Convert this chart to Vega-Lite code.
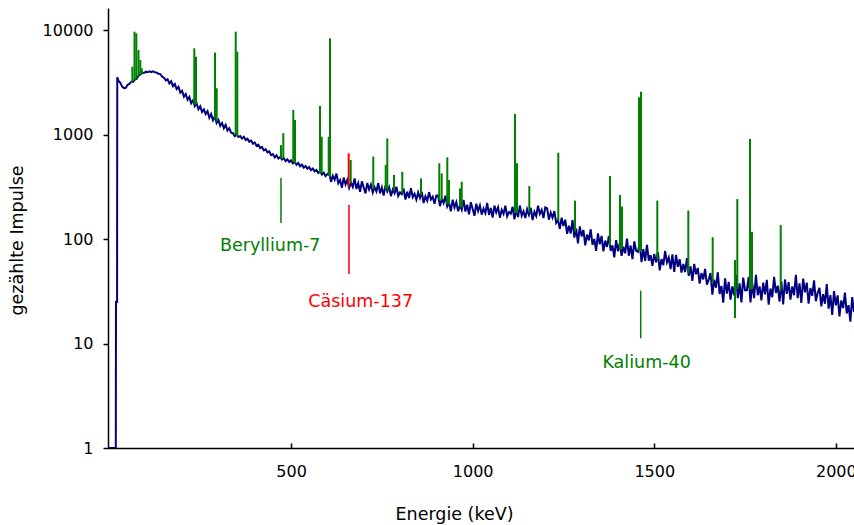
{
  "$schema": "https://vega.github.io/schema/vega-lite/v6.json",
  "width": 746,
  "height": 440,
  "autosize": "none",
  "padding": {"left": 108, "top": 8, "right": 0, "bottom": 77},
  "background": "white",
  "config": {
    "view": {"stroke": null},
    "font": "DejaVu Sans",
    "axis": {"grid": false, "domainColor": "#000", "tickColor": "#000", "labelColor": "#000", "titleColor": "#000", "titleFontWeight": "normal", "domainWidth": 1.5, "tickWidth": 1.5, "labelFont": "DejaVu Sans", "titleFont": "DejaVu Sans"}
  },
  "datasets": {
    "spectrum": [
      {"e":-4,"c":1},{"e":17.5,"c":1},{"e":18,"c":25},{"e":21,"c":25},{"e":21.5,"c":3530},{"e":25,"c":3260},{"e":30,"c":3120},{"e":35,"c":2870},{"e":40,"c":2780},{"e":45,"c":2800},{"e":50,"c":2990},{"e":55,"c":3050},{"e":60,"c":3200},{"e":65,"c":3190},{"e":70,"c":3350},{"e":75,"c":3420},{"e":80,"c":3660},{"e":85,"c":3760},{"e":90,"c":3920},{"e":95,"c":3880},{"e":100,"c":3990},{"e":105,"c":3940},{"e":110,"c":4020},{"e":115,"c":3960},{"e":120,"c":4030},{"e":125,"c":3940},{"e":130,"c":3910},{"e":135,"c":3820},{"e":140,"c":3790},{"e":145,"c":3580},{"e":150,"c":3500},
      {"e":155,"c":3300},{"e":160,"c":3380},{"e":165,"c":3080},{"e":170,"c":3230},{"e":175,"c":2900},{"e":180,"c":3040},{"e":185,"c":2720},{"e":190,"c":2860},{"e":195,"c":2520},{"e":200,"c":2620},{"e":205,"c":2300},{"e":210,"c":2440},{"e":215,"c":2150},{"e":220,"c":2290},{"e":225,"c":1990},{"e":230,"c":2120},{"e":235,"c":1870},{"e":240,"c":1990},{"e":245,"c":1750},{"e":250,"c":1860},{"e":255,"c":1640},{"e":260,"c":1740},{"e":265,"c":1570},{"e":270,"c":1670},{"e":275,"c":1450},{"e":280,"c":1570},{"e":285,"c":1370},{"e":290,"c":1490},{"e":295,"c":1290},{"e":300,"c":1380},{"e":305,"c":1210},{"e":310,"c":1290},{"e":315,"c":1150},{"e":320,"c":1240},{"e":325,"c":1090},{"e":330,"c":1150},{"e":335,"c":1040},{"e":340,"c":1030},{"e":345,"c":965},{"e":350,"c":1000},{"e":355,"c":945},{"e":360,"c":965},{"e":365,"c":915},{"e":370,"c":950},{"e":375,"c":885},{"e":380,"c":910},{"e":385,"c":850},{"e":390,"c":875},{"e":395,"c":815},{"e":400,"c":840},{"e":405,"c":780},{"e":410,"c":800},{"e":415,"c":740},{"e":420,"c":760},{"e":425,"c":705},{"e":430,"c":725},{"e":435,"c":675},{"e":440,"c":690},{"e":445,"c":635},{"e":450,"c":650},{"e":455,"c":605},{"e":460,"c":630},{"e":465,"c":590},{"e":470,"c":610},{"e":475,"c":575},{"e":480,"c":595},{"e":485,"c":555},{"e":490,"c":578},{"e":495,"c":545},{"e":500,"c":565},{"e":505,"c":530},{"e":510,"c":552},{"e":515,"c":512},{"e":520,"c":535},{"e":525,"c":496},{"e":530,"c":515},{"e":535,"c":482},{"e":540,"c":500},{"e":545,"c":470},{"e":550,"c":488},{"e":555,"c":455},{"e":560,"c":472},{"e":565,"c":445},{"e":570,"c":458},{"e":575,"c":428},{"e":580,"c":445},{"e":585,"c":414},{"e":590,"c":432},{"e":595,"c":400},{"e":600,"c":418},
      {"e":605,"c":434},{"e":610,"c":352},{"e":615,"c":403},{"e":620,"c":370},{"e":625,"c":422},{"e":630,"c":342},{"e":635,"c":366},{"e":640,"c":309},{"e":645,"c":387},{"e":650,"c":333},{"e":655,"c":368},{"e":660,"c":308},{"e":665,"c":345},{"e":670,"c":315},{"e":675,"c":379},{"e":680,"c":301},{"e":685,"c":342},{"e":690,"c":283},{"e":695,"c":356},{"e":700,"c":312},
      {"e":705,"c":273},{"e":710,"c":344},{"e":715,"c":298},{"e":720,"c":331},{"e":725,"c":278},{"e":730,"c":313},{"e":735,"c":285},{"e":740,"c":343},{"e":745,"c":273},{"e":750,"c":312},{"e":755,"c":260},{"e":760,"c":326},{"e":765,"c":286},{"e":770,"c":314},{"e":775,"c":257},{"e":780,"c":297},{"e":785,"c":274},{"e":790,"c":317},{"e":795,"c":258},{"e":800,"c":279},
      {"e":805,"c":269},{"e":810,"c":304},{"e":815,"c":238},{"e":820,"c":284},{"e":825,"c":247},{"e":830,"c":307},{"e":835,"c":252},{"e":840,"c":271},{"e":845,"c":238},{"e":850,"c":279},{"e":855,"c":247},{"e":860,"c":282},{"e":865,"c":221},{"e":870,"c":256},{"e":875,"c":233},{"e":880,"c":281},{"e":885,"c":239},{"e":890,"c":254},{"e":895,"c":217},{"e":900,"c":261},
      {"e":905,"c":261},{"e":910,"c":206},{"e":915,"c":243},{"e":920,"c":221},{"e":925,"c":260},{"e":930,"c":205},{"e":935,"c":223},{"e":940,"c":184},{"e":945,"c":238},{"e":950,"c":200},{"e":955,"c":225},{"e":960,"c":184},{"e":965,"c":211},{"e":970,"c":190},{"e":975,"c":237},{"e":980,"c":183},{"e":985,"c":213},{"e":990,"c":172},{"e":995,"c":225},{"e":1000,"c":194},
      {"e":1005,"c":167},{"e":1010,"c":218},{"e":1015,"c":185},{"e":1020,"c":209},{"e":1025,"c":171},{"e":1030,"c":196},{"e":1035,"c":177},{"e":1040,"c":221},{"e":1045,"c":170},{"e":1050,"c":198},{"e":1055,"c":160},{"e":1060,"c":209},{"e":1065,"c":180},{"e":1070,"c":201},{"e":1075,"c":160},{"e":1080,"c":190},{"e":1085,"c":174},{"e":1090,"c":208},{"e":1095,"c":165},{"e":1100,"c":181},
      {"e":1105,"c":175},{"e":1110,"c":203},{"e":1115,"c":154},{"e":1120,"c":190},{"e":1125,"c":162},{"e":1130,"c":209},{"e":1135,"c":167},{"e":1140,"c":184},{"e":1145,"c":159},{"e":1150,"c":193},{"e":1155,"c":170},{"e":1160,"c":199},{"e":1165,"c":152},{"e":1170,"c":182},{"e":1175,"c":166},{"e":1180,"c":208},{"e":1185,"c":174},{"e":1190,"c":190},{"e":1195,"c":159},{"e":1200,"c":201},
      {"e":1205,"c":196},{"e":1210,"c":153},{"e":1215,"c":179},{"e":1220,"c":160},{"e":1225,"c":185},{"e":1230,"c":143},{"e":1235,"c":153},{"e":1240,"c":125},{"e":1245,"c":160},{"e":1250,"c":133},
      {"e":1255,"c":153},{"e":1260,"c":112},{"e":1265,"c":134},{"e":1270,"c":113},{"e":1275,"c":152},{"e":1280,"c":103},{"e":1285,"c":126},{"e":1290,"c":91},{"e":1295,"c":132},{"e":1300,"c":106},{"e":1305,"c":122},{"e":1310,"c":87},{"e":1315,"c":110},{"e":1320,"c":97},{"e":1325,"c":124},{"e":1330,"c":88},{"e":1335,"c":100},{"e":1340,"c":77},{"e":1345,"c":113},{"e":1350,"c":89},
      {"e":1355,"c":107},{"e":1360,"c":76},{"e":1365,"c":96.5},{"e":1370,"c":84},{"e":1375,"c":107},{"e":1380,"c":77},{"e":1385,"c":87},{"e":1390,"c":66.7},{"e":1395,"c":97.5},{"e":1400,"c":76.5},{"e":1405,"c":91.4},{"e":1410,"c":68.9},{"e":1415,"c":84.3},{"e":1420,"c":73},{"e":1425,"c":100.7},{"e":1430,"c":69.2},{"e":1435,"c":86.6},{"e":1440,"c":64.2},{"e":1445,"c":95},{"e":1450,"c":77.2},
      {"e":1455,"c":75.2},{"e":1460,"c":91.4},{"e":1465,"c":60.2},{"e":1470,"c":80},{"e":1475,"c":61.8},{"e":1480,"c":88.1},{"e":1485,"c":62},{"e":1490,"c":70.1},{"e":1495,"c":55.3},{"e":1500,"c":71.8},{"e":1505,"c":59.7},{"e":1510,"c":74.6},{"e":1515,"c":50},{"e":1520,"c":64.4},{"e":1525,"c":56.1},{"e":1530,"c":76.9},{"e":1535,"c":59.7},{"e":1540,"c":66.5},{"e":1545,"c":51.6},{"e":1550,"c":71.2},
      {"e":1555,"c":48.4},{"e":1560,"c":70.5},{"e":1565,"c":54.1},{"e":1570,"c":64},{"e":1575,"c":47.7},{"e":1580,"c":57.6},{"e":1585,"c":48.3},{"e":1590,"c":65.5},{"e":1595,"c":44.4},{"e":1600,"c":54.8},{"e":1605,"c":39.8},{"e":1610,"c":57.7},{"e":1615,"c":45.9},{"e":1620,"c":52.8},{"e":1625,"c":37.4},{"e":1630,"c":47.2},{"e":1635,"c":41.1},{"e":1640,"c":51.7},{"e":1645,"c":36.5},{"e":1650,"c":40.9},
      {"e":1655,"c":47.3},{"e":1660,"c":29.4},{"e":1665,"c":40.8},{"e":1670,"c":34.2},{"e":1675,"c":48.1},{"e":1680,"c":29.8},{"e":1685,"c":35.6},{"e":1690,"c":24.6},{"e":1695,"c":42},{"e":1700,"c":30},{"e":1705,"c":38.8},{"e":1710,"c":26.3},{"e":1715,"c":35.2},{"e":1720,"c":29},{"e":1725,"c":45.5},{"e":1730,"c":27.2},{"e":1735,"c":37.6},{"e":1740,"c":24.7},{"e":1745,"c":42.7},{"e":1750,"c":32.4},
      {"e":1755,"c":32.4},{"e":1760,"c":43.3},{"e":1765,"c":24.7},{"e":1770,"c":37.6},{"e":1775,"c":27.2},{"e":1780,"c":45.5},{"e":1785,"c":29},{"e":1790,"c":35.2},{"e":1795,"c":25.9},{"e":1800,"c":38.2},{"e":1805,"c":29.5},{"e":1810,"c":40.7},{"e":1815,"c":23.5},{"e":1820,"c":33.6},{"e":1825,"c":27.7},{"e":1830,"c":43.4},{"e":1835,"c":30.5},{"e":1840,"c":35.8},{"e":1845,"c":25.1},{"e":1850,"c":39.4},
      {"e":1855,"c":23.6},{"e":1860,"c":41},{"e":1865,"c":29.8},{"e":1870,"c":38.7},{"e":1875,"c":26.3},{"e":1880,"c":35.2},{"e":1885,"c":29},{"e":1890,"c":45.5},{"e":1895,"c":27.2},{"e":1900,"c":37.6},{"e":1905,"c":24.4},{"e":1910,"c":41.7},{"e":1915,"c":30.9},{"e":1920,"c":38.2},{"e":1925,"c":24.1},{"e":1930,"c":33.9},{"e":1935,"c":28.6},{"e":1940,"c":40.2},{"e":1945,"c":25.4},{"e":1950,"c":30.5},
      {"e":1955,"c":34},{"e":1960,"c":22.7},{"e":1965,"c":29.7},{"e":1970,"c":24},{"e":1975,"c":37},{"e":1980,"c":21.6},{"e":1985,"c":29.1},{"e":1990,"c":18.8},{"e":1995,"c":31.7},{"e":2000,"c":23.2},{"e":2005,"c":28.9},{"e":2010,"c":18.2},{"e":2015,"c":25.8},{"e":2020,"c":21.8},{"e":2025,"c":30.7},{"e":2030,"c":19.4},{"e":2035,"c":23.3},{"e":2040,"c":16.2},{"e":2045,"c":27.8},{"e":2050,"c":20}
    ],
    "peaks": [
      {"e":63,"lo":3120,"hi":4450,"nuclide":"other"},
      {"e":69,"lo":3300,"hi":9640,"nuclide":"other"},
      {"e":74,"lo":3420,"hi":9300,"nuclide":"other"},
      {"e":80,"lo":3600,"hi":6440,"nuclide":"other"},
      {"e":85,"lo":3760,"hi":5165,"nuclide":"other"},
      {"e":89,"lo":3880,"hi":4300,"nuclide":"other"},
      {"e":233.6,"lo":1930,"hi":6680,"nuclide":"other"},
      {"e":238.3,"lo":1930,"hi":5550,"nuclide":"other"},
      {"e":290.6,"lo":1420,"hi":6070,"nuclide":"other"},
      {"e":295.3,"lo":1330,"hi":2770,"nuclide":"other"},
      {"e":347.6,"lo":985,"hi":9640,"nuclide":"other"},
      {"e":352,"lo":960,"hi":6200,"nuclide":"other"},
      {"e":472.3,"lo":590,"hi":790,"nuclide":"Beryllium-7"},
      {"e":478.7,"lo":590,"hi":1030,"nuclide":"Beryllium-7"},
      {"e":506.2,"lo":545,"hi":1715,"nuclide":"other"},
      {"e":510.9,"lo":530,"hi":1376,"nuclide":"other"},
      {"e":579.7,"lo":425,"hi":1875,"nuclide":"other"},
      {"e":584.4,"lo":428,"hi":953,"nuclide":"other"},
      {"e":603.7,"lo":400,"hi":953,"nuclide":"other"},
      {"e":607.2,"lo":395,"hi":8335,"nuclide":"other"},
      {"e":658.7,"lo":316,"hi":660,"nuclide":"Cäsium-137"},
      {"e":664.2,"lo":340,"hi":570,"nuclide":"other"},
      {"e":726.4,"lo":300,"hi":614,"nuclide":"other"},
      {"e":760.6,"lo":300,"hi":511,"nuclide":"other"},
      {"e":765,"lo":290,"hi":918,"nuclide":"other"},
      {"e":783.4,"lo":290,"hi":410,"nuclide":"other"},
      {"e":806.3,"lo":275,"hi":440,"nuclide":"other"},
      {"e":857.8,"lo":265,"hi":380,"nuclide":"other"},
      {"e":908.2,"lo":235,"hi":531,"nuclide":"other"},
      {"e":914.8,"lo":235,"hi":425,"nuclide":"other"},
      {"e":930.2,"lo":215,"hi":605,"nuclide":"other"},
      {"e":934.9,"lo":215,"hi":367,"nuclide":"other"},
      {"e":965.2,"lo":205,"hi":305,"nuclide":"other"},
      {"e":969.9,"lo":200,"hi":353,"nuclide":"other"},
      {"e":1116.6,"lo":178,"hi":1570,"nuclide":"other"},
      {"e":1122.1,"lo":178,"hi":531,"nuclide":"other"},
      {"e":1156,"lo":178,"hi":321,"nuclide":"other"},
      {"e":1235.8,"lo":150,"hi":670,"nuclide":"other"},
      {"e":1281.8,"lo":118,"hi":233,"nuclide":"other"},
      {"e":1378.2,"lo":87,"hi":401,"nuclide":"other"},
      {"e":1405.7,"lo":80,"hi":264,"nuclide":"other"},
      {"e":1411.2,"lo":80,"hi":204,"nuclide":"other"},
      {"e":1458,"lo":76,"hi":2270,"nuclide":"Kalium-40"},
      {"e":1463.5,"lo":76,"hi":2570,"nuclide":"Kalium-40"},
      {"e":1508.4,"lo":64,"hi":233,"nuclide":"other"},
      {"e":1593.8,"lo":47,"hi":187,"nuclide":"other"},
      {"e":1660.9,"lo":38,"hi":104,"nuclide":"other"},
      {"e":1722.3,"lo":17.5,"hi":63,"nuclide":"other"},
      {"e":1728.7,"lo":33,"hi":241,"nuclide":"other"},
      {"e":1763.6,"lo":33,"hi":906,"nuclide":"other"},
      {"e":1769.1,"lo":33,"hi":117,"nuclide":"other"},
      {"e":1848.2,"lo":32,"hi":136,"nuclide":"other"}
    ],
    "markers": [
      {"nuclide":"Beryllium-7","e":472.3,"lo":142,"hi":384,"le":442.5,"lv":85.7},
      {"nuclide":"Cäsium-137","e":659.5,"lo":46.2,"hi":211,"le":691.7,"lv":24.8},
      {"nuclide":"Kalium-40","e":1462.7,"lo":11.2,"hi":32,"le":1479,"lv":6.55}
    ]
  },
  "layer": [
    {
      "data": {"name": "spectrum"},
      "mark": {"type": "line", "color": "#000080", "strokeWidth": 2, "clip": true},
      "encoding": {
        "x": {"field": "e", "type": "quantitative", "scale": {"domain": [-4, 2050], "nice": false, "zero": false},
          "axis": {"values": [500, 1000, 1500, 2000], "format": "d", "tickSize": -5, "labelFontSize": 16, "labelPadding": 20, "labelFlush": false, "title": "Energie (keV)", "titleFontSize": 17.5, "titlePadding": 26, "titleX": 346}},
        "y": {"field": "c", "type": "quantitative", "scale": {"type": "log", "domain": [1, 16240], "nice": false},
          "axis": {"values": [1, 10, 100, 1000, 10000], "format": "d", "tickSize": 5, "labelFontSize": 16, "labelPadding": 10, "title": "gezählte Impulse", "titleFontSize": 17.5, "titlePadding": 16, "titleY": 232}}
      }
    },
    {
      "data": {"name": "peaks"},
      "mark": {"type": "rule", "strokeWidth": 2, "clip": true},
      "encoding": {
        "x": {"field": "e", "type": "quantitative"},
        "y": {"field": "lo", "type": "quantitative"},
        "y2": {"field": "hi"},
        "color": {"field": "nuclide", "type": "nominal", "scale": {"domain": ["other", "Beryllium-7", "Cäsium-137", "Kalium-40"], "range": ["#008000", "#008000", "#ff0000", "#008000"]}, "legend": null}
      }
    },
    {
      "data": {"name": "markers"},
      "mark": {"type": "rule", "strokeWidth": 1.5},
      "encoding": {
        "x": {"field": "e", "type": "quantitative"},
        "y": {"field": "lo", "type": "quantitative"},
        "y2": {"field": "hi"},
        "color": {"field": "nuclide", "type": "nominal", "scale": {"domain": ["other", "Beryllium-7", "Cäsium-137", "Kalium-40"], "range": ["#008000", "#008000", "#ff0000", "#008000"]}, "legend": null}
      }
    },
    {
      "data": {"name": "markers"},
      "mark": {"type": "text", "fontSize": 17.5, "align": "center", "baseline": "middle", "font": "DejaVu Sans"},
      "encoding": {
        "x": {"field": "le", "type": "quantitative"},
        "y": {"field": "lv", "type": "quantitative"},
        "text": {"field": "nuclide"},
        "color": {"field": "nuclide", "type": "nominal", "scale": {"domain": ["other", "Beryllium-7", "Cäsium-137", "Kalium-40"], "range": ["#008000", "#008000", "#ff0000", "#008000"]}, "legend": null}
      }
    }
  ]
}
